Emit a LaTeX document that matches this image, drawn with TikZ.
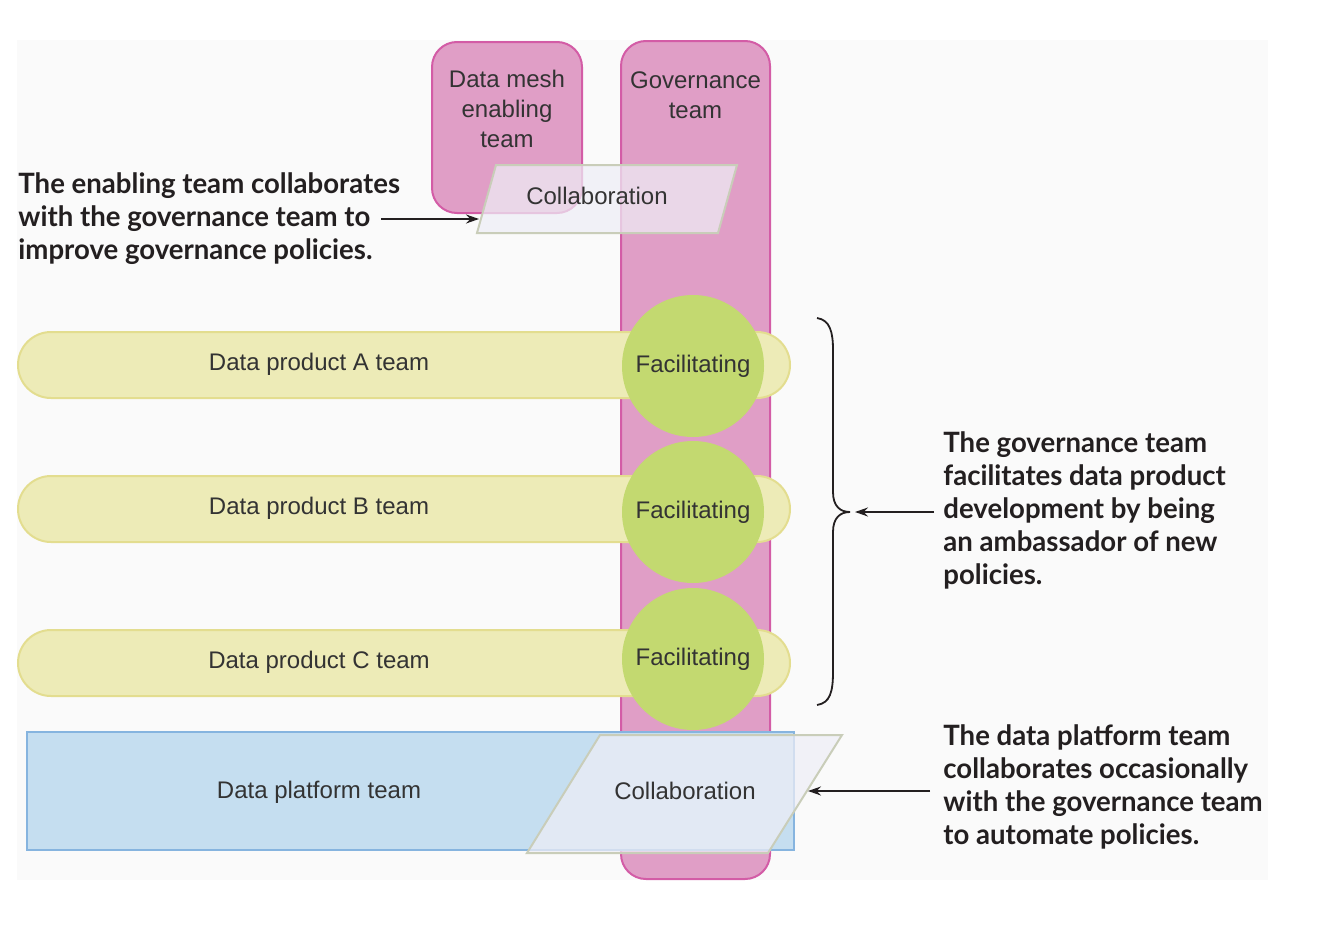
\documentclass[tikz,border=0pt]{standalone}
\usepackage{fontspec}
\setmainfont{Liberation Sans}
\newfontfamily\notefont{Lato}[FakeStretch=0.985]
\usetikzlibrary{arrows.meta}
\definecolor{bgc}{HTML}{FAFAFA}
\definecolor{pinkfill}{HTML}{E09EC6}
\definecolor{pinkdraw}{HTML}{D35CA6}
\definecolor{yelfill}{HTML}{EDEBB7}
\definecolor{yeldraw}{HTML}{E3DD8F}
\definecolor{grnfill}{HTML}{C3D970}
\definecolor{bluefill}{HTML}{C5DEF0}
\definecolor{bluedraw}{HTML}{86B4DF}
\definecolor{colfill}{HTML}{EEEEF6}
\definecolor{coldraw}{HTML}{C9CDB9}
\definecolor{inkc}{HTML}{231F20}
\definecolor{txtc}{HTML}{333333}
\tikzset{
  teambox/.style={draw=pinkdraw, fill=pinkfill, line width=1pt, rounded corners=12.5pt, inner sep=0pt},
  barbox/.style={draw=yeldraw, fill=yelfill, line width=1pt, rounded corners=16.5pt, inner sep=0pt, minimum width=386pt, minimum height=33pt},
  facil/.style={circle, fill=grnfill, minimum size=71pt, inner sep=0pt, text=txtc, font=\fontsize{12}{15}\selectfont},
  platbox/.style={draw=bluedraw, fill=bluefill, line width=1pt, inner sep=0pt},
  collab/.style={draw=coldraw, fill=colfill, fill opacity=0.72, line width=1pt},
  teamtext/.style={align=center, text=txtc, inner sep=0pt, font=\fontsize{12}{15}\selectfont},
  notetext/.style={align=left, text=inkc, inner sep=0pt, anchor=north west, font=\notefont\bfseries\fontsize{14}{16.5}\selectfont},
  conn/.style={draw=inkc, line width=0.9pt, -{Stealth[length=6.5pt, width=4.5pt]}},
  bracestyle/.style={draw=inkc, line width=0.9pt}
}
\begin{document}
\begin{tikzpicture}[x=0.5pt, y=-0.5pt]
\useasboundingbox (0,0) rectangle (1318,932);
\fill[bgc] (17,40) rectangle (1268,880);

% pink team columns
\node[teambox, minimum width=74.5pt, minimum height=419pt] (gov) at (695.5,460) {};
\node[teambox, minimum width=75pt, minimum height=85.5pt] (mesh) at (507,127.5) {};
\node[teamtext] (meshlbl) at (507,108.5) {Data mesh\\enabling\\team};
\node[teamtext] (govlbl) at (695.5,95) {Governance\\team};

% top collaboration
\path[collab] (496,165) -- (737,165) -- (718,233) -- (477,233) -- cycle;
\node[teamtext] (colTop) at (597,196) {Collaboration};

% data product bars
\node[barbox] (barA) at (404,365) {};
\node[barbox] (barB) at (404,509) {};
\node[barbox] (barC) at (404,663) {};
\node[teamtext] (lblA) at (319,364) {Data product A team};
\node[teamtext] (lblB) at (319,508) {Data product B team};
\node[teamtext] (lblC) at (319,662) {Data product C team};
\node[facil] (facA) at (693,366) {Facilitating};
\node[facil] (facB) at (693,512) {Facilitating};
\node[facil] (facC) at (693,659) {Facilitating};

% data platform
\node[platbox, minimum width=383.5pt, minimum height=59pt] (plat) at (410.5,791) {};
\node[teamtext] (platlbl) at (319,792) {Data platform team};
\path[collab] (600,735) -- (842,735) -- (768,853) -- (527,853) -- cycle;
\node[teamtext] (colBot) at (685,791) {Collaboration};

% annotations
\node[notetext] (noteA) at (18,172.5) {The enabling team collaborates\\with the governance team to\\improve governance policies.};
\node[notetext] (noteB) at (943,431.5) {The governance team\\facilitates data product\\development by being\\an ambassador of new\\policies.};
\node[notetext] (noteC) at (943,724.5) {The data platform team\\collaborates occasionally\\with the governance team\\to automate policies.};

\coordinate (aStart) at (381,219);
\coordinate (aEnd) at (479,219);
\draw[conn] (aStart) -- (aEnd);

\path[bracestyle] (817,318) .. controls (830,320) and (833,332) .. (833,350) -- (833,492)
  .. controls (833,506) and (840,512) .. (850,512)
  .. controls (840,512) and (833,518) .. (833,532) -- (833,672)
  .. controls (833,692) and (830,703) .. (817,705);
\coordinate (braceTip) at (855,512);
\coordinate (bStart) at (934,512);
\draw[conn] (bStart) -- (braceTip);

\coordinate (cStart) at (930,791);
\coordinate (cEnd) at (808,791);
\draw[conn] (cStart) -- (cEnd);
\end{tikzpicture}
\end{document}
